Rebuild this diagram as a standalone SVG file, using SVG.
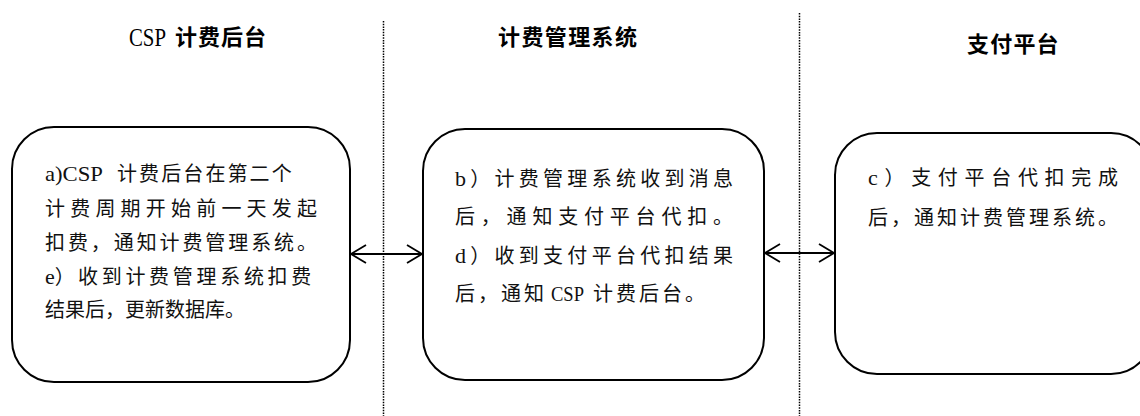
<svg xmlns="http://www.w3.org/2000/svg" width="1140" height="416" viewBox="0 0 1140 416">
<style>
.box{fill:#fff;stroke:#000;stroke-width:2}
.lane{stroke:#000;stroke-width:1.5;stroke-dasharray:1.5 1.2;fill:none}
.conn{stroke:#000;stroke-width:1.8;fill:none}
.title{font-family:"Liberation Serif","Noto Sans CJK SC",sans-serif;font-size:22px;font-weight:bold;fill:#000}
.tlat{font-family:"Liberation Serif",serif;font-size:26px;fill:#000}
.body{font-family:"Liberation Serif","Noto Sans CJK SC",serif;font-size:20px;fill:#111}
.blat{font-size:22px}
</style>
<defs>
<marker id="ah" viewBox="-1 -1 18 20" refX="15" refY="9" markerWidth="18" markerHeight="20" markerUnits="userSpaceOnUse" orient="auto-start-reverse">
<path d="M0,0 L15,9 L0,18" fill="none" stroke="#000" stroke-width="1.8"/>
</marker>
</defs>
<g id="lanes">
<line class="lane" x1="383.5" y1="21" x2="383.5" y2="416"/>
<line class="lane" x1="799.5" y1="13" x2="799.5" y2="416"/>
</g>
<g id="titles">
<text class="tlat" transform="translate(129,46) scale(0.8,1)" x="0" y="0">CSP</text>
<text class="title" x="175" y="45" letter-spacing="1">计费后台</text>
<text class="title" x="498" y="45" letter-spacing="1.4">计费管理系统</text>
<text class="title" x="967" y="52" letter-spacing="1.2">支付平台</text>
</g>
<g id="node-csp">
<rect class="box" x="12" y="127" width="338" height="255" rx="42" ry="42"/>
<text class="body" x="45" y="181"><tspan class="blat" textLength="58" lengthAdjust="spacingAndGlyphs">a)CSP</tspan><tspan x="117" letter-spacing="2.1">计费后台在第二个</tspan></text>
<text class="body" x="45" y="216" textLength="272" lengthAdjust="spacing">计费周期开始前一天发起</text>
<text class="body" x="45" y="250" textLength="272" lengthAdjust="spacing">扣费，通知计费管理系统。</text>
<text class="body" x="45" y="284"><tspan class="blat">e</tspan><tspan>）</tspan><tspan x="78" letter-spacing="3.7">收到计费管理系统扣费</tspan></text>
<text class="body" x="45" y="317">结果后，更新数据库。</text>
</g>
<g id="node-billing">
<rect class="box" x="423" y="129" width="341" height="251" rx="42" ry="42"/>
<text class="body" x="455" y="186" textLength="278" lengthAdjust="spacing"><tspan class="blat">b</tspan>）计费管理系统收到消息</text>
<text class="body" x="455" y="224" textLength="278" lengthAdjust="spacing">后，通知支付平台代扣。</text>
<text class="body" x="455" y="263" textLength="278" lengthAdjust="spacing"><tspan class="blat">d</tspan>）收到支付平台代扣结果</text>
<text class="body" x="455" y="301"><tspan letter-spacing="3">后，通知</tspan><tspan class="blat" x="551" textLength="33" lengthAdjust="spacingAndGlyphs">CSP</tspan><tspan x="593" letter-spacing="3">计费后台。</tspan></text>
</g>
<g id="node-pay">
<rect class="box" x="835" y="133" width="318" height="241" rx="42" ry="42"/>
<text class="body" x="868" y="185" textLength="250" lengthAdjust="spacing"><tspan class="blat">c</tspan>）支付平台代扣完成</text>
<text class="body" x="868" y="225" textLength="250" lengthAdjust="spacing">后，通知计费管理系统。</text>
</g>
<g id="connectors">
<line class="conn" x1="351" y1="254" x2="422" y2="254" marker-start="url(#ah)" marker-end="url(#ah)"/>
<line class="conn" x1="765" y1="253" x2="834" y2="253" marker-start="url(#ah)" marker-end="url(#ah)"/>
</g>
</svg>
